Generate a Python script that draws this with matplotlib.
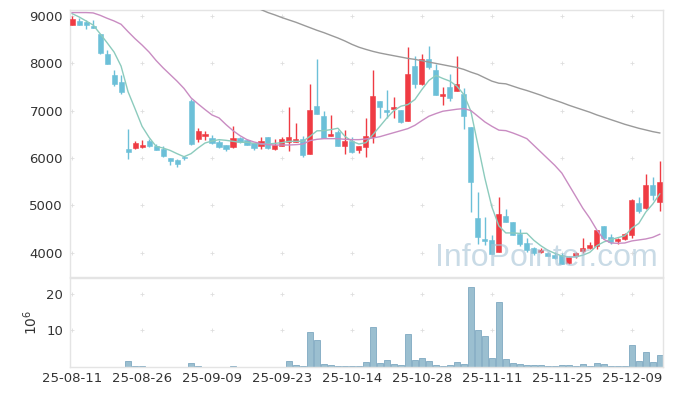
#!/usr/bin/env python
# Daily candles (85 sessions, 25-08-11 .. 25-12-15) with 5/20/60-day moving
# averages and a volume panel underneath.
import numpy as np
import matplotlib
matplotlib.use('Agg')
import matplotlib.pyplot as plt

TICK_LABELS = ['25-08-11', '25-08-26', '25-09-09', '25-09-23', '25-10-14',
               '25-10-28', '25-11-11', '25-11-25', '25-12-09']

OPEN = [8809, 8894, 8873, 8781, 8612, 8188, 7744, 7596, 6198, 6206,
        6226, 6368, 6262, 6184, 6001, 5951, 6022, 7215, 6396, 6474,
        6431, 6333, 6283, 6226, 6424, 6375, 6311, 6248, 6445, 6184,
        6262, 6333, 6333, 6403, 6078, 7109, 6897, 6459, 6558, 6255,
        6368, 6163, 6226, 6438, 7215, 7024, 7031, 7024, 6777, 7934,
        7574, 8083, 7864, 7306, 7490, 7412, 7363, 6664, 4745, 4293,
        4272, 4011, 4787, 4646, 4406, 4208, 4095, 4025, 3989, 3961,
        3954, 3785, 3926, 4046, 4110, 4138, 4568, 4328, 4258, 4286,
        4378, 5055, 4942, 5429, 5083]
HIGH = [9000, 8965, 8908, 8908, 8620, 8287, 7864, 7744, 6622, 6368,
        6389, 6410, 6297, 6248, 6010, 5990, 6050, 7250, 6636, 6579,
        6490, 6390, 6283, 6678, 6450, 6400, 6320, 6445, 6445, 6403,
        6438, 7081, 6735, 6474, 7553, 8097, 6989, 6918, 6587, 6587,
        6445, 6248, 6848, 7864, 7215, 7433, 7292, 7024, 8351, 8153,
        8203, 8372, 7977, 7504, 7765, 8160, 7483, 6664, 5281, 4752,
        4378, 5175, 4928, 4646, 4505, 4321, 4117, 4102, 4011, 4025,
        3989, 3940, 4025, 4307, 4237, 4477, 4568, 4392, 4307, 4427,
        5140, 5189, 5662, 5592, 5937]
LOW = [8800, 8800, 8732, 8740, 8203, 7984, 7518, 7356, 5987, 6191,
       6220, 6226, 6160, 6020, 5846, 5810, 5950, 6280, 6340, 6390,
       6290, 6220, 6142, 6220, 6320, 6270, 6160, 6190, 6200, 6170,
       6250, 6156, 6333, 6022, 6078, 6925, 6417, 6459, 6248, 6093,
       6100, 6107, 6022, 6311, 6848, 6848, 6848, 6742, 6777, 7483,
       7532, 7871, 7327, 7123, 7200, 7412, 6622, 4858, 4187, 4166,
       3968, 4011, 4660, 4378, 4152, 4011, 3954, 3997, 3940, 3870,
       3757, 3764, 3884, 3989, 4074, 4074, 4314, 4194, 4187, 4272,
       4321, 4843, 4928, 5119, 4879]
CLOSE = [8929, 8809, 8809, 8753, 8217, 7984, 7567, 7391, 6121, 6325,
         6283, 6248, 6163, 6036, 5930, 5881, 6001, 6297, 6579, 6509,
         6318, 6226, 6184, 6424, 6333, 6276, 6205, 6368, 6205, 6276,
         6403, 6453, 6410, 6057, 7017, 6925, 6417, 6516, 6248, 6354,
         6121, 6248, 6466, 7320, 7073, 6975, 7088, 6756, 7765, 7574,
         8083, 7920, 7327, 7363, 7278, 7574, 6883, 5486, 4343, 4258,
         3968, 4822, 4660, 4378, 4194, 4067, 3996, 4067, 3940, 3884,
         3757, 3919, 3989, 4103, 4173, 4477, 4314, 4237, 4293, 4392,
         5119, 4879, 5429, 5224, 5493]
VOLUME_M = [0.1, 0.1, 0.1, 0.1, 0.1, 0.1, 0.1, 0.1, 1.7, 0.3,
            0.3, 0.1, 0.1, 0.1, 0.1, 0.1, 0.1, 1.1, 0.3, 0.1,
            0.1, 0.1, 0.1, 0.3, 0.1, 0.1, 0.1, 0.1, 0.1, 0.1,
            0.1, 1.7, 0.55, 0.3, 9.5, 7.3, 0.8, 0.55, 0.3, 0.3,
            0.3, 0.2, 1.35, 10.8, 1.1, 1.9, 0.8, 0.55, 8.9, 1.9,
            2.4, 1.6, 0.55, 0.3, 0.55, 1.35, 0.8, 21.9, 10.0, 8.4,
            2.4, 17.8, 2.2, 1.1, 0.8, 0.55, 0.55, 0.55, 0.3, 0.3,
            0.55, 0.55, 0.3, 0.8, 0.3, 1.1, 0.8, 0.3, 0.3, 0.3,
            5.9, 1.7, 4.05, 1.45, 3.2]

MA5 = [9049, 8979, 8894, 8809, 8626, 8435, 8238, 7941, 7400, 7040,
       6671, 6438, 6248, 6212, 6163, 6093, 6029, 6093, 6212, 6318,
       6360, 6389, 6375, 6354, 6333, 6333, 6311, 6297, 6297, 6311,
       6325, 6354, 6354, 6354, 6459, 6575, 6579, 6601, 6630, 6459,
       6354, 6297, 6325, 6495, 6671, 6848, 7003, 7095, 7130, 7236,
       7447, 7638, 7744, 7680, 7624, 7518, 7342, 6989, 6283, 5577,
       4970, 4570, 4420, 4420, 4410, 4413, 4265, 4150, 4055, 3990,
       3935, 3915, 3915, 3950, 4010, 4150, 4230, 4280, 4320, 4360,
       4520, 4620, 4860, 5030, 5245]
MA20 = [9071, 9071, 9071, 9064, 9014, 8951, 8894, 8824, 8668, 8520,
        8386, 8238, 8061, 7906, 7765, 7624, 7469, 7271, 7144, 7024,
        6910, 6848, 6707, 6579, 6473, 6389, 6340, 6304, 6283, 6276,
        6276, 6276, 6283, 6297, 6368, 6396, 6410, 6410, 6410, 6396,
        6389, 6389, 6403, 6424, 6452, 6495, 6537, 6579, 6622, 6692,
        6791, 6883, 6939, 6989, 7010, 7031, 7045, 7003, 6883, 6763,
        6671, 6590, 6579, 6530, 6473, 6410, 6269, 6128, 5987, 5846,
        5684, 5437, 5190, 4942, 4731, 4484, 4286, 4208, 4201, 4208,
        4251, 4272, 4293, 4328, 4392]
MA60 = [np.nan] * 26 + [
        9190, 9134, 9071, 9021, 8965, 8915, 8866, 8809, 8753, 8697,
        8647, 8590, 8534, 8471, 8400, 8340, 8294, 8252, 8217, 8188,
        8160, 8132, 8104, 8083, 8055, 8026, 7998, 7970, 7941, 7913,
        7871, 7814, 7765, 7694, 7624, 7580, 7567, 7518, 7469, 7426,
        7377, 7327, 7271, 7222, 7172, 7116, 7066, 7017, 6968, 6911,
        6862, 6812, 6763, 6713, 6671, 6629, 6594, 6558, 6530]

UP = '#ef3b43'
DOWN = '#6cc0d8'
FRAME = '#e4e4e4'
GRIDMARK = '#dedede'
TXT = '#333333'


def style_axes(ax):
    for s in ax.spines.values():
        s.set_color(FRAME)
        s.set_linewidth(1.0)
    ax.tick_params(length=0, colors=TXT, labelsize=9.5, pad=5)


def grid_marks(ax, xs, ys):
    gx, gy = np.meshgrid(xs, ys)
    ax.scatter(gx.ravel(), gy.ravel(), marker='+', s=12, lw=0.6,
               color=GRIDMARK, zorder=0.5)


def main():
    n = len(CLOSE)
    x = np.arange(n)
    o, h, l, c = map(np.array, (OPEN, HIGH, LOW, CLOSE))
    up = c >= o
    cols = np.where(up, UP, DOWN)

    fig = plt.figure(figsize=(6.73, 3.96), dpi=100)
    ax = fig.add_axes([0.104, 0.3005, 0.881, 0.6742])
    axv = fig.add_axes([0.104, 0.0735, 0.881, 0.2245], sharex=ax)

    xticks = np.arange(0, n, 10)

    # price panel
    ax.vlines(x, l, h, colors=cols, lw=1.0, zorder=2)
    body = np.maximum(np.abs(c - o), 12)
    ax.bar(x, body, bottom=np.minimum(o, c), width=0.72, color=cols,
           edgecolor=cols, lw=0.4, zorder=3)
    ax.plot(x, MA5, color='#8ccbbd', lw=1.0, zorder=4)
    ax.plot(x, MA20, color='#c98cc2', lw=1.0, zorder=4)
    ax.plot(x, MA60, color='#9a9a9a', lw=1.0, zorder=4)

    ax.set_xlim(-0.3, 84.45)
    ax.set_ylim(3490, 9125)
    yt = np.arange(4000, 9001, 1000)
    ax.set_yticks(yt)
    ax.set_yticklabels([str(v) for v in yt])
    grid_marks(ax, xticks, yt)
    style_axes(ax)
    ax.tick_params(axis='x', labelbottom=False)

    ax.text(0.803, 0.04, 'InfoPointer.com', transform=ax.transAxes,
            ha='center', va='baseline', fontsize=23, family='Liberation Sans',
            color='#a6c3d6', alpha=0.6, zorder=6)

    # volume panel
    axv.bar(x, VOLUME_M, width=0.85, color='#9bbfd0', edgecolor='#7fa9c1',
            lw=0.6, zorder=2)
    axv.set_ylim(0, 24.3)
    axv.set_yticks([10, 20])
    axv.set_yticklabels(['10', '20'])
    grid_marks(axv, xticks, [10, 20])
    axv.set_xticks(xticks)
    axv.set_xticklabels(TICK_LABELS)
    style_axes(axv)
    axv.tick_params(axis='x', pad=4)
    fig.text(0.045, 0.185, r'$10^6$', rotation=90, ha='center', va='center',
             fontsize=10, color=TXT)

    fig.savefig('out.png', dpi=100, facecolor='white')


if __name__ == '__main__':
    main()
